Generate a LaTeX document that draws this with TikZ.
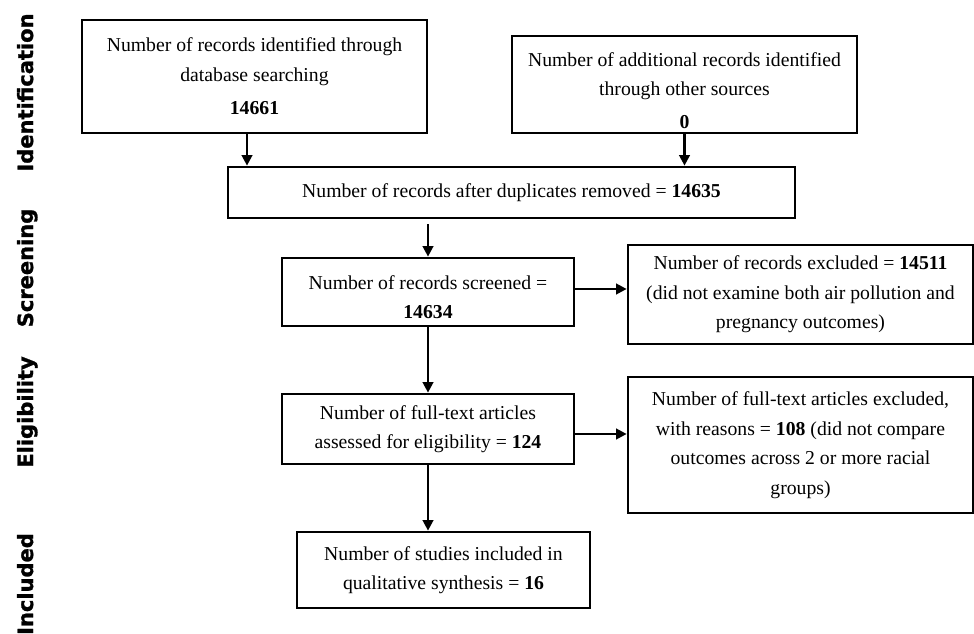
\documentclass[tikz,border=0pt]{standalone}
\usepackage{fontspec}
\setmainfont{Liberation Serif}
\newfontfamily\phasefont{DejaVu Sans}[BoldFeatures={FakeBold=1.2}]
\usetikzlibrary{arrows.meta}

\begin{document}
\begin{tikzpicture}[x=1pt,y=1pt,
        box/.style={draw,line width=2.7pt,align=center,inner sep=3pt,
            font=\fontsize{19.7}{29.5}\selectfont},
        txt/.style={align=center,inner sep=0pt,font=\fontsize{19.7}{29.5}\selectfont},
        arr/.style={line width=2.3pt,-{Triangle[length=10.5pt,width=10.5pt]}},
        phase/.style={rotate=90,anchor=base,inner sep=0pt,
            font=\phasefont\bfseries\fontsize{21}{21}\selectfont}]
            \useasboundingbox (0,0) rectangle (974,634);
            \node[phase] (idlab) at (33,541.5) {Identification};
            \node[phase] (sclab) at (33,366) {Screening};
            \node[phase] (ellab) at (33,222) {Eligibility};
            \node[phase] (inlab) at (33,50) {Included};
            \node[box,minimum width=345pt,minimum height=113pt] (db) at (254.5,557.5)
                {Number of records identified through\\database searching\\[4pt]\textbf{14661}};
            \node[box,minimum width=345pt,minimum height=97pt,
                label={[txt,yshift=-6pt]center:{Number of additional records identified\\through other sources\\[3.5pt]\textbf{0}}}] (other) at (684.5,549.5) {};
            \node[box,minimum width=567pt,minimum height=51pt] (dup) at (511.5,441.5)
                {Number of records after duplicates removed = \textbf{14635}};
            \node[box,minimum width=292pt,minimum height=68pt,
                label={[txt,yshift=-5pt]center:{Number of records screened =\\\textbf{14634}}}] (scr) at (428,342) {};
            \node[box,minimum width=345pt,minimum height=99pt] (ex1) at (800.5,339.5)
                {Number of records excluded = \textbf{14511}\\(did not examine both air pollution and\\pregnancy outcomes)};
            \node[box,minimum width=292pt,minimum height=70pt] (ft) at (428,205)
                {Number of full-text articles\\assessed for eligibility = \textbf{124}};
            \node[box,minimum width=345pt,minimum height=136pt] (ex2) at (800.5,189)
                {Number of full-text articles excluded,\\with reasons = \textbf{108} (did not compare\\outcomes across 2 or more racial\\groups)};
            \node[box,minimum width=293pt,minimum height=76pt] (incl) at (443.5,64)
                {Number of studies included in\\qualitative synthesis = \textbf{16}};
            \draw[arr] ([xshift=-7.5pt]db.south) -- ([xshift=-7.5pt]db.south |- dup.north);
            \draw[arr] (other.south) -- (other.south |- dup.north);
            \draw[arr] ([yshift=-5pt]dup.south -| scr.north) -- (scr.north);
            \draw[arr] ([yshift=3pt]scr.east) -- ([yshift=3pt]scr.east -| ex1.west);
            \draw[arr] (scr.south) -- (ft.north);
            \draw[arr] ([yshift=-5pt]ft.east) -- ([yshift=-5pt]ft.east -| ex2.west);
            \draw[arr] (ft.south) -- (ft.south |- incl.north);
        \end{tikzpicture}
\end{document}
